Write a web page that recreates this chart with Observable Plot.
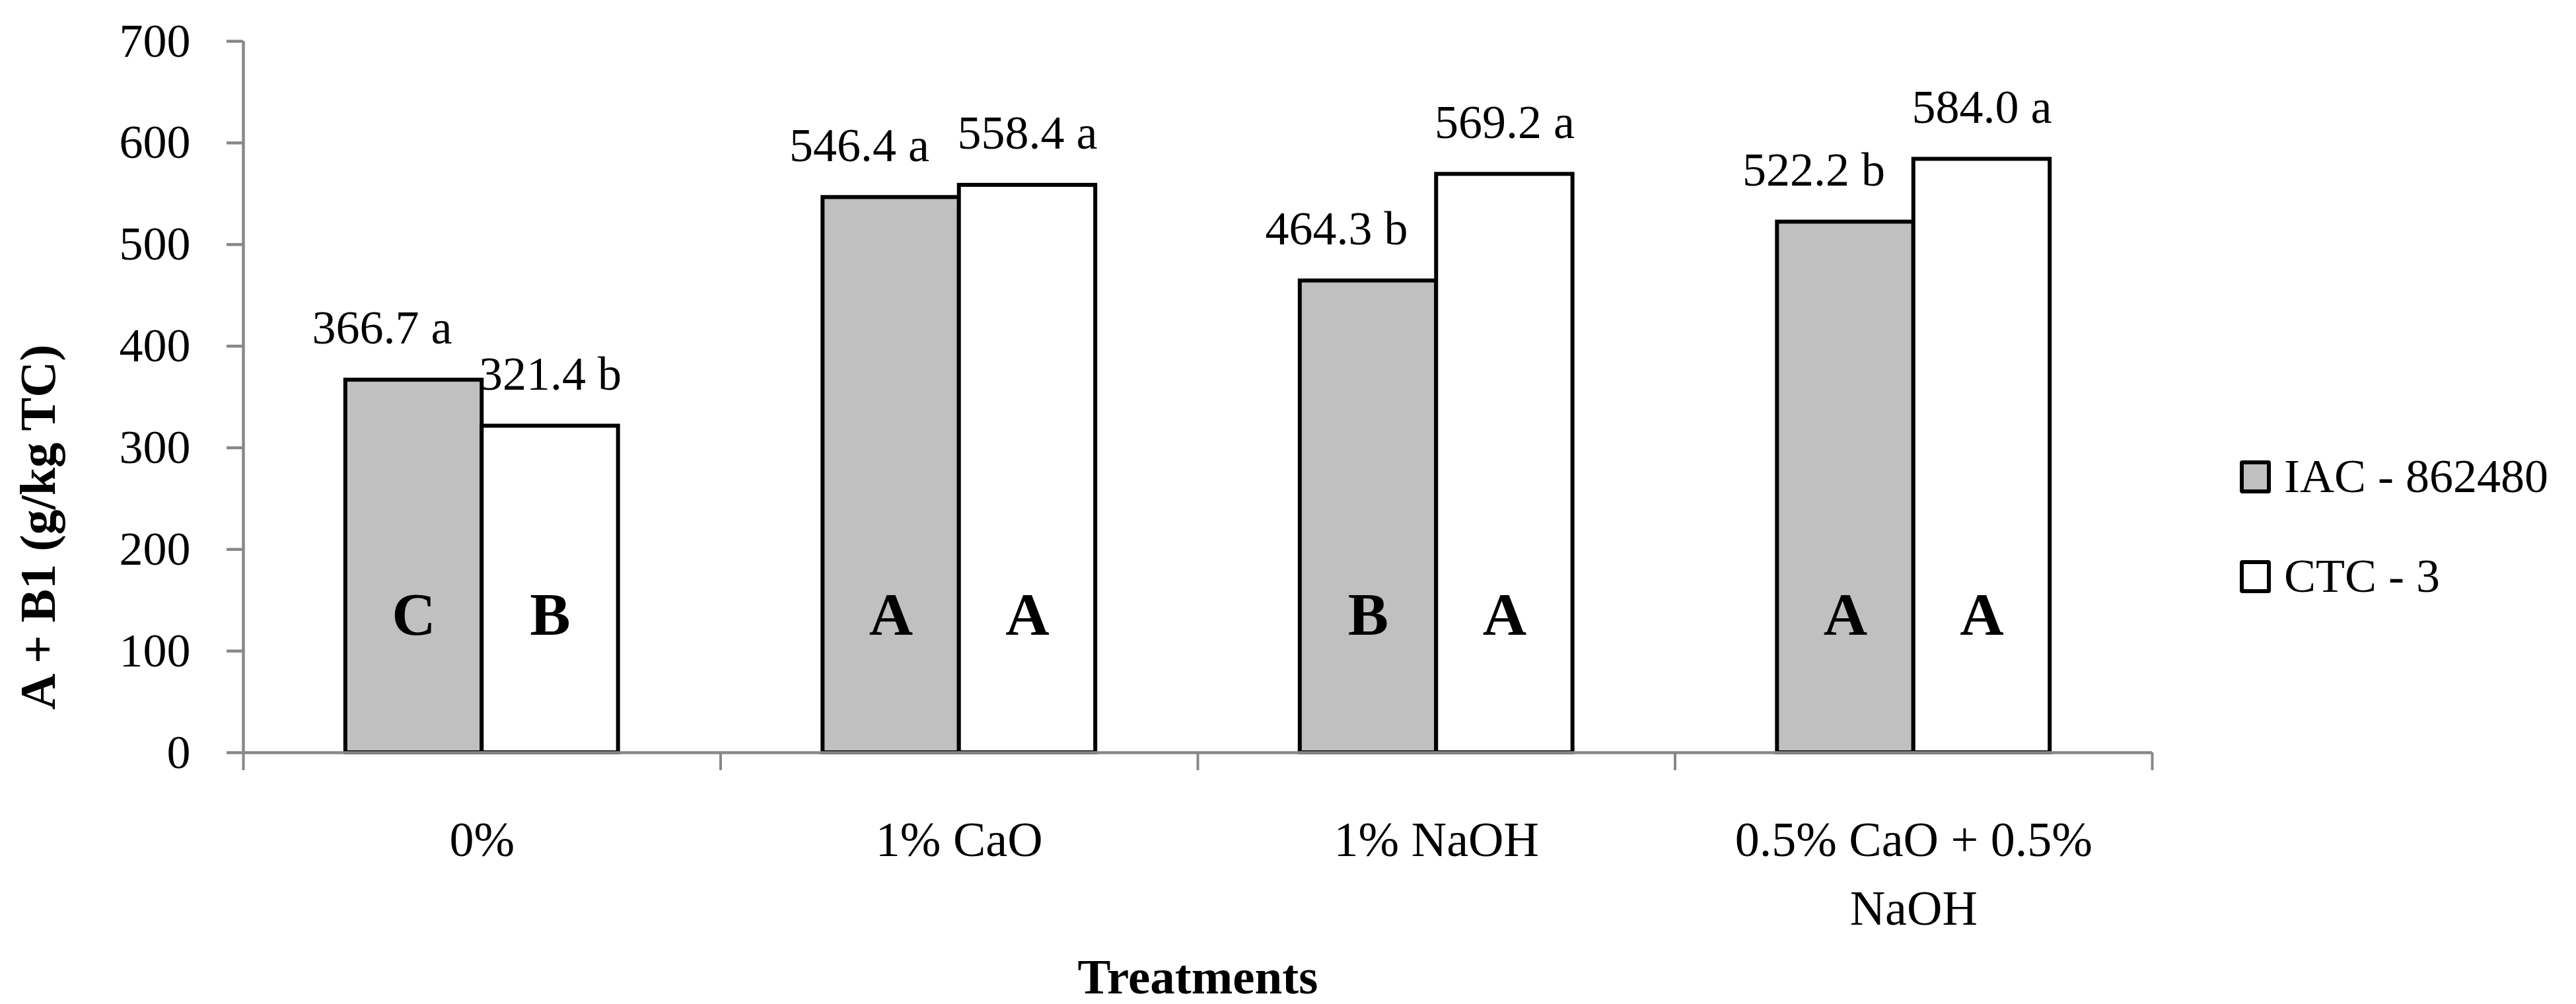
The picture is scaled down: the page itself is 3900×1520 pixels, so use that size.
<!DOCTYPE html>
<html>
<head>
<meta charset="utf-8">
<script src="https://cdn.jsdelivr.net/npm/d3@7"></script>
<script src="https://cdn.jsdelivr.net/npm/@observablehq/plot@0.6"></script>
<style>
  html, body { margin: 0; padding: 0; background: #fff; }
  #chart { position: relative; width: 3900px; height: 1520px; font-family: 'Liberation Serif', serif; }
  #legend { position: absolute; left: 3391px; top: 646px; font-family: 'Liberation Serif', serif; font-size: 72px; color: #000; }
  .row { display: flex; align-items: center; height: 151px; }
  .sw { box-sizing: border-box; width: 47px; height: 50px; border: 6px solid #000; border-radius: 4px; margin-right: 20px; }
</style>
</head>
<body>
<div id="chart"></div>
<script>
// ---- data ----
const treatments = ["0%", "1% CaO", "1% NaOH", "0.5% CaO + 0.5% NaOH"];
const treatmentTicks = ["0%", "1% CaO", "1% NaOH", "0.5% CaO + 0.5%\nNaOH"];
const series = ["IAC - 862480", "CTC - 3"];
const seriesColors = ["#c0c0c0", "#ffffff"];
const iacValues = [366.7, 546.4, 464.3, 522.2];
const ctcValues = [321.4, 558.4, 569.2, 584.0];
const iacLetters = ["a", "a", "b", "b"];
const ctcLetters = ["b", "a", "a", "a"];
const iacGroups = ["C", "A", "B", "A"];
const ctcGroups = ["B", "A", "A", "A"];
const yTicks = [0, 100, 200, 300, 400, 500, 600, 700];
const yTitle = "A + B1 (g/kg TC)";
const xTitle = "Treatments";

// ---- layout (Excel-like clustered columns, gap width 150%) ----
const gapWidth = 1.5;
const barW = 1 / (series.length + gapWidth);
const valuesBySeries = [iacValues, ctcValues];
const lettersBySeries = [iacLetters, ctcLetters];
const groupsBySeries = [iacGroups, ctcGroups];
const rows = treatments.flatMap((t, i) => series.map((s, k) => {
  const x1 = i + gapWidth * barW / 2 + k * barW;
  return {
    treatment: t, series: s, k, value: valuesBySeries[k][i],
    label: valuesBySeries[k][i].toFixed(1) + " " + lettersBySeries[k][i],
    group: groupsBySeries[k][i],
    x1, x2: x1 + barW, xc: x1 + barW / 2
  };
}));
const ticksData = treatments.map((t, i) => ({ t: treatmentTicks[i], xc: i + 0.5 }));
const boundaries = d3.range(treatments.length + 1);

const font = "'Liberation Serif', serif";
const axisGray = "#888888";
const labelStyle = { x: "xc", y: "value", text: "label", lineAnchor: "bottom", dy: -55, fontSize: 72, fontFamily: font, fill: "#000" };

const plot = Plot.plot({
  width: 3900,
  height: 1520,
  marginLeft: 368,
  marginRight: 642,
  marginTop: 62,
  marginBottom: 381,
  style: { fontFamily: font, fontSize: "72px", color: "#000", background: "#fff" },
  x: { domain: [0, treatments.length] },
  y: { domain: [0, 700] },
  color: { domain: series, range: seriesColors },
  marks: [
    Plot.axisY({ ticks: yTicks, tickSize: 25, tickPadding: 55, stroke: axisGray, strokeWidth: 4.5, fill: "#000", fontSize: 72, fontFamily: font, label: null }),
    Plot.axisX({ ticks: boundaries, tickSize: 27, tickFormat: () => "", stroke: axisGray, strokeWidth: 4, label: null }),
    Plot.ruleX([0], { stroke: axisGray, strokeWidth: 4.5 }),
    Plot.rectY(rows, { x1: "x1", x2: "x2", y: "value", fill: "series", stroke: "#000", strokeWidth: 6 }),
    Plot.ruleY([0], { stroke: axisGray, strokeWidth: 4.5 }),
    Plot.text(rows.filter(d => d.k === 0), { ...labelStyle, dx: -48 }),
    Plot.text(rows.filter(d => d.k === 1), { ...labelStyle, dx: 0 }),
    Plot.text(rows, { x: "xc", text: "group", frameAnchor: "bottom", lineAnchor: "bottom", dy: -179, fontSize: 92, fontWeight: "bold", fontFamily: font, fill: "#000" }),
    Plot.text(ticksData, { x: "xc", text: "t", frameAnchor: "bottom", lineAnchor: "top", dy: 83, lineHeight: 1.4, fontSize: 74, fontFamily: font, fill: "#000" }),
    Plot.text([xTitle], { frameAnchor: "bottom", textAnchor: "middle", lineAnchor: "bottom", dy: 364, fontSize: 75, fontWeight: "bold", fontFamily: font, fill: "#000" }),
    Plot.text([yTitle], { frameAnchor: "left", textAnchor: "middle", lineAnchor: "bottom", rotate: -90, dx: -286, dy: 197, fontSize: 76, fontWeight: "bold", fontFamily: font, fill: "#000" })
  ]
});

const chart = document.getElementById("chart");
chart.appendChild(plot);

// ---- legend (HTML, from the plot's color scale) ----
const colorScale = plot.scale("color");
const legend = document.createElement("div");
legend.id = "legend";
colorScale.domain.forEach((s, i) => {
  const row = document.createElement("div");
  row.className = "row";
  const sw = document.createElement("div");
  sw.className = "sw";
  sw.style.background = colorScale.range[i];
  const lab = document.createElement("span");
  lab.textContent = s;
  row.appendChild(sw);
  row.appendChild(lab);
  legend.appendChild(row);
});
chart.appendChild(legend);
</script>
</body>
</html>
